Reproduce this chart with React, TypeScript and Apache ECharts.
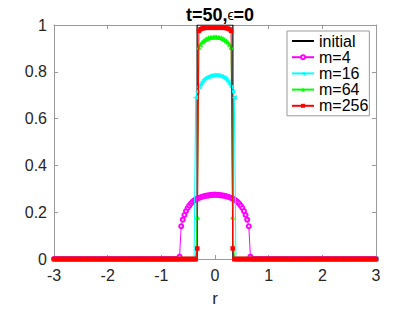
import React, { useEffect, useRef } from 'react';
import * as echarts from 'echarts';

// solution grid
const R_MIN = -3;
const R_STEP = 0.03;
const R_COUNT = 201;

const xTicks = [-3, -2, -1, 0, 1, 2, 3];
const yTicks = [0, 0.2, 0.4, 0.6, 0.8, 1];

// initial step profile
const initialR = [-3, -0.333, -0.333, 0.333, 0.333, 3];
const initialV = [0, 0, 1, 1, 0, 0];

// nonzero parts of each profile (zero elsewhere), listed from their first r
const m4Start = -0.66;
const m4Values = [
  0.01, 0.14, 0.168, 0.188, 0.205, 0.218, 0.228, 0.237, 0.244, 0.25, 0.254, 0.258,
  0.261, 0.264, 0.266, 0.268, 0.27, 0.271, 0.272, 0.273, 0.274, 0.274, 0.275,
  0.274, 0.274, 0.273, 0.272, 0.271, 0.27, 0.268, 0.266, 0.264, 0.261, 0.258,
  0.254, 0.25, 0.244, 0.237, 0.228, 0.218, 0.205, 0.188, 0.168, 0.14, 0.01,
];

const m16Start = -0.36;
const m16Values = [
  0.69, 0.715, 0.735, 0.748, 0.758, 0.766, 0.772, 0.777, 0.78, 0.782, 0.784, 0.785, 0.785,
  0.785, 0.784, 0.782, 0.78, 0.777, 0.772, 0.766, 0.758, 0.748, 0.735, 0.715, 0.69,
];

const m64Start = -0.33;
const m64Values = [
  0.18, 0.905, 0.918, 0.927, 0.933, 0.938, 0.942, 0.945, 0.947, 0.948, 0.949, 0.95,
  0.949, 0.948, 0.947, 0.945, 0.942, 0.938, 0.933, 0.927, 0.918, 0.905, 0.18,
];

const m256Start = -0.33;
const m256Values = [
  0.045, 0.975, 0.982, 0.985, 0.987, 0.988, 0.988, 0.988, 0.988, 0.988, 0.988, 0.988,
  0.988, 0.988, 0.988, 0.988, 0.988, 0.988, 0.987, 0.985, 0.982, 0.975, 0.045,
];

const seriesNames = ['initial', 'm=4', 'm=16', 'm=64', 'm=256'];
const seriesColors = ['#000000', '#ff00ff', '#00ffff', '#00ff00', '#ff0000'];

function gridR(i: number) {
  return Math.round((R_MIN + i * R_STEP) * 100) / 100;
}

function profile(start: number, values: number[]) {
  const first = Math.round((start - R_MIN) / R_STEP);
  const out: number[][] = [];
  for (let i = 0; i < R_COUNT; i++) {
    const k = i - first;
    out.push([gridR(i), k >= 0 && k < values.length ? values[k] : 0]);
  }
  return out;
}

const FRAME = '#9a9a9a';
const TXT = '#262626';
const FONT = '"Liberation Sans", Arial, sans-serif';

export default function App() {
  const ref = useRef<HTMLDivElement>(null);
  useEffect(() => {
    if (!ref.current) return;
    const chart = echarts.init(ref.current, undefined, { renderer: 'svg' });
    const axisCommon = {
      axisLine: { show: true, onZero: false, lineStyle: { color: FRAME, width: 1 } },
      axisTick: { show: true, inside: true, length: 4, lineStyle: { color: FRAME, width: 1 } },
      splitLine: { show: false },
    };
    chart.setOption({
      animation: false,
      backgroundColor: '#ffffff',
      textStyle: { fontFamily: FONT },
      title: {
        text: '{a|t=50,}{e|ϵ}{a|=0}',
        left: 215,
        textAlign: 'center',
        top: 1,
        textStyle: {
          rich: {
            a: { fontSize: 18, fontWeight: 'bold', color: '#000', fontFamily: FONT },
            e: { fontSize: 14, fontWeight: 'normal', color: '#000', fontFamily: FONT },
          },
        },
      },
      grid: { left: 54, top: 25, width: 322, height: 242, containLabel: false },
      legend: {
        orient: 'vertical',
        left: 287,
        top: 31,
        data: [
          { name: seriesNames[0], itemStyle: { opacity: 0 } },
          seriesNames[1],
          seriesNames[2],
          seriesNames[3],
          seriesNames[4],
        ],
        itemWidth: 22,
        itemHeight: 5,
        itemGap: 0.2,
        padding: [2, 1, 2, 4],
        borderColor: FRAME,
        borderWidth: 1,
        backgroundColor: '#ffffff',
        textStyle: { fontSize: 16, color: '#000', lineHeight: 16, fontFamily: FONT },
        selectedMode: false,
      },
      xAxis: [
        {
          type: 'value',
          min: xTicks[0],
          max: xTicks[xTicks.length - 1],
          interval: 1,
          position: 'bottom',
          name: 'r',
          nameLocation: 'middle',
          nameGap: 31,
          nameTextStyle: { fontSize: 17, color: TXT, fontFamily: FONT },
          axisLabel: { fontSize: 16, color: TXT, margin: 8, fontFamily: FONT },
          ...axisCommon,
        },
        {
          type: 'value',
          min: xTicks[0],
          max: xTicks[xTicks.length - 1],
          interval: 1,
          position: 'top',
          axisLabel: { show: false },
          ...axisCommon,
        },
      ],
      yAxis: [
        {
          type: 'value',
          min: yTicks[0],
          max: yTicks[yTicks.length - 1],
          interval: 0.2,
          position: 'left',
          axisLabel: { fontSize: 16, color: TXT, margin: 7, fontFamily: FONT },
          ...axisCommon,
        },
        {
          type: 'value',
          min: yTicks[0],
          max: yTicks[yTicks.length - 1],
          interval: 0.2,
          position: 'right',
          axisLabel: { show: false },
          ...axisCommon,
        },
      ],
      series: [
        {
          name: seriesNames[0],
          type: 'line',
          data: initialR.map((r, i) => [r, initialV[i]]),
          symbol: 'none',
          lineStyle: { color: seriesColors[0], width: 1.2 },
          itemStyle: { color: seriesColors[0] },
          silent: true,
          z: 2,
        },
        {
          name: seriesNames[1],
          type: 'line',
          data: profile(m4Start, m4Values),
          symbol: 'emptyCircle',
          symbolSize: 4,
          showAllSymbol: true,
          lineStyle: { color: seriesColors[1], width: 1 },
          itemStyle: { color: seriesColors[1], borderWidth: 1 },
          silent: true,
          z: 3,
        },
        {
          name: seriesNames[2],
          type: 'line',
          data: profile(m16Start, m16Values),
          symbol: 'triangle',
          symbolRotate: 90,
          symbolSize: 5,
          showAllSymbol: true,
          lineStyle: { color: seriesColors[2], width: 1 },
          itemStyle: { color: seriesColors[2] },
          silent: true,
          z: 4,
        },
        {
          name: seriesNames[3],
          type: 'line',
          data: profile(m64Start, m64Values),
          symbol: 'triangle',
          symbolSize: 5,
          showAllSymbol: true,
          lineStyle: { color: seriesColors[3], width: 1 },
          itemStyle: { color: seriesColors[3] },
          silent: true,
          z: 5,
        },
        {
          name: seriesNames[4],
          type: 'line',
          data: profile(m256Start, m256Values),
          symbol: 'rect',
          symbolSize: 4.5,
          showAllSymbol: true,
          lineStyle: { color: seriesColors[4], width: 1 },
          itemStyle: { color: seriesColors[4] },
          silent: true,
          z: 6,
        },
      ],
    });
    return () => chart.dispose();
  }, []);
  return (
    <div
      ref={ref}
      style={{ position: 'absolute', left: 0, top: 0, width: 415, height: 312 }}
    />
  );
}
